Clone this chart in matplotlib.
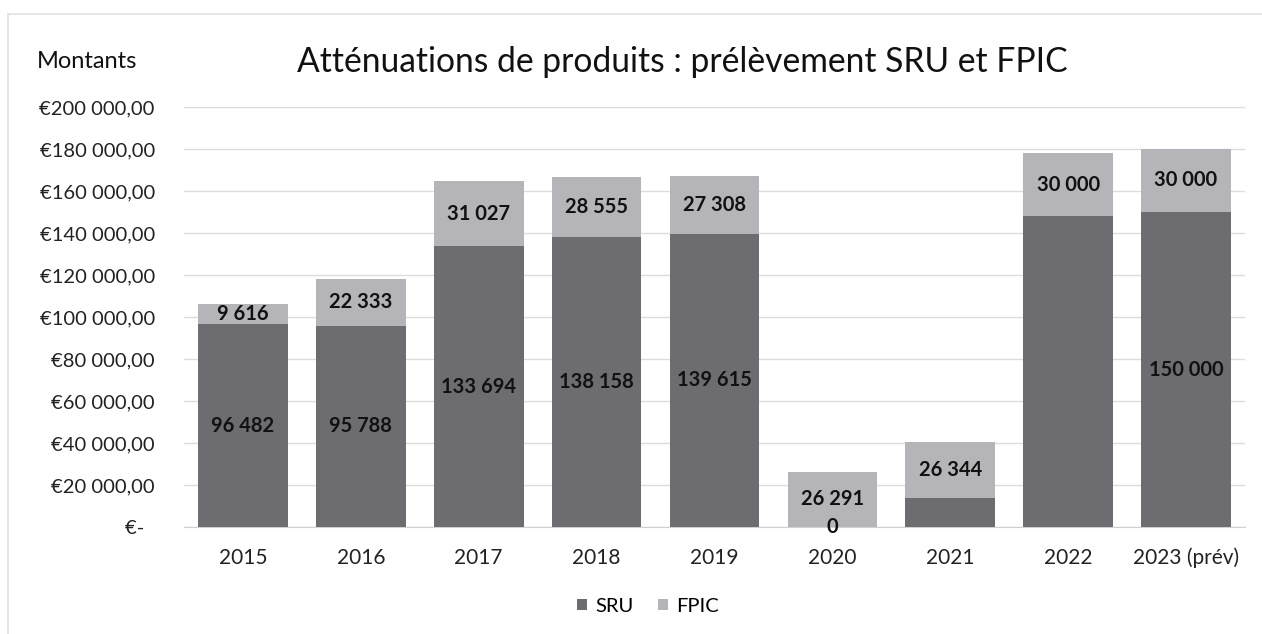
import matplotlib.pyplot as plt
from matplotlib.patches import Rectangle
from matplotlib.ticker import FixedLocator

plt.rcParams['font.family'] = ['Lato', 'DejaVu Sans']

# Data
years = ['2015', '2016', '2017', '2018', '2019', '2020', '2021', '2022', '2023 (prév)']
sru = [96482, 95788, 133694, 138158, 139615, 0, 14000, 148000, 150000]
fpic = [9616, 22333, 31027, 28555, 27308, 26291, 26344, 30000, 30000]
sru_labels = ['96 482', '95 788', '133 694', '138 158', '139 615', '0', '', '', '150 000']
fpic_labels = ['9 616', '22 333', '31 027', '28 555', '27 308', '26 291', '26 344', '30 000', '30 000']
y_ticks = [0, 20000, 40000, 60000, 80000, 100000, 120000, 140000, 160000, 180000, 200000]
y_tick_labels = ['€-  ', '€20 000,00', '€40 000,00', '€60 000,00', '€80 000,00', '€100 000,00',
                 '€120 000,00', '€140 000,00', '€160 000,00', '€180 000,00', '€200 000,00']

sru_color = '#6c6c71'
fpic_color = '#b5b5b9'

fig = plt.figure(figsize=(12.62, 6.34), dpi=100)
ax = fig.add_axes([184 / 1262, 1 - 527 / 634, (1245 - 184) / 1262, (527 - 107) / 634])

x = list(range(len(years)))
ax.bar(x, sru, width=0.76, color=sru_color, label='SRU', zorder=3)
ax.bar(x, fpic, width=0.76, bottom=sru, color=fpic_color, label='FPIC', zorder=3)

# data labels
for i in x:
    if sru_labels[i]:
        ax.text(i, sru[i] / 2, sru_labels[i], ha='center', va='center',
                fontsize=14.5, fontweight='bold', color='#111111', zorder=4)
    ax.text(i, sru[i] + fpic[i] / 2, fpic_labels[i], ha='center', va='center',
            fontsize=14.5, fontweight='bold', color='#111111', zorder=4)

ax.set_xlim(-0.5, len(years) - 0.5)
ax.set_ylim(0, 200000)
ax.yaxis.set_major_locator(FixedLocator(y_ticks))
ax.set_yticklabels(y_tick_labels, fontsize=14.5, color='#222222')
ax.set_xticks(x)
ax.set_xticklabels(years, fontsize=15, color='#222222')
ax.tick_params(axis='y', length=0, pad=21)
ax.tick_params(axis='x', length=0, pad=15)
ax.grid(axis='y', color='#dcdcdc', linewidth=1, zorder=0)
for side in ['top', 'right', 'left']:
    ax.spines[side].set_visible(False)
ax.spines['bottom'].set_color('#d0d0d0')

fig.text(682 / 1262, 1 - 62 / 634, 'Atténuations de produits : prélèvement SRU et FPIC',
         ha='center', va='center', fontsize=24.2, color='#111111')
fig.text(37 / 1262, 1 - 62 / 634, 'Montants', ha='left', va='center', fontsize=17, color='#111111')

fig.legend(loc='center', bbox_to_anchor=(648 / 1262, 1 - 606 / 634), ncol=2, frameon=False,
           fontsize=14.5, handlelength=0.5, handleheight=0.5, handletextpad=0.4, columnspacing=1.2)

# faint outer frame of the scanned chart
fig.patches.append(Rectangle((8 / 1262, -0.1), 1.2, 1 - 14 / 634 + 0.1, transform=fig.transFigure,
                             fill=False, edgecolor='#e2e2e2', linewidth=1.2))

fig.savefig('out.png', dpi=100, facecolor='white')
